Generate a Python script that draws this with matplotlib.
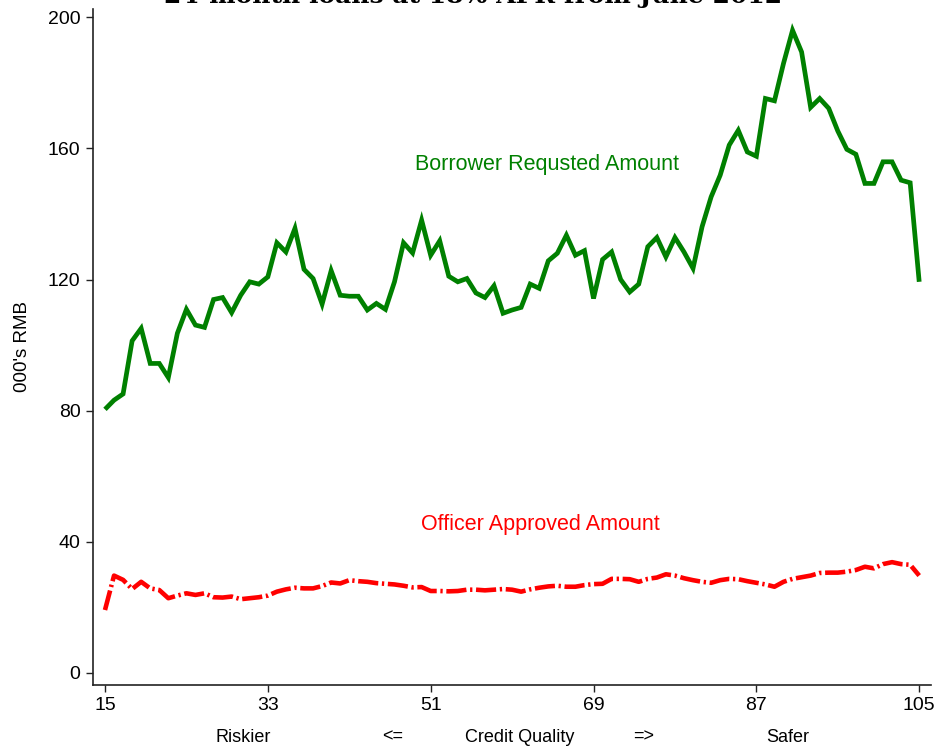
import numpy as np
import matplotlib
matplotlib.use("Agg")
import matplotlib.pyplot as plt
from matplotlib.transforms import blended_transform_factory

plt.rcParams["font.family"] = ["Liberation Sans", "DejaVu Sans"]

# Credit-quality score (x) and average loan amounts in thousands of RMB
credit_score = list(range(15, 106))

requested = [
    80.4, 83.2, 85.1, 101.3, 105.1, 94.4, 94.4, 90.1, 103.6, 110.9,
    106.1, 105.4, 113.9, 114.5, 109.9, 115.2, 119.3, 118.6, 120.8, 131.2,
    128.4, 135.6, 123.1, 120.3, 112.5, 122.7, 115.2, 114.9, 114.9, 110.7,
    112.7, 110.9, 119.3, 131.2, 128.1, 138.1, 127.4, 131.8, 121.0, 119.3,
    120.3, 115.9, 114.5, 118.1, 109.7, 110.7, 111.5, 118.6, 117.3, 125.7,
    128.0, 133.5, 127.4, 128.8, 114.2, 126.1, 128.4, 120.0, 116.2, 118.6,
    130.0, 132.8, 126.9, 132.8, 128.4, 123.4, 136.1, 145.2, 151.8, 161.0,
    165.5, 158.9, 157.6, 175.2, 174.5, 185.9, 196.0, 189.4, 172.5, 175.2,
    172.2, 165.3, 159.7, 158.2, 149.3, 149.3, 155.9, 155.9, 150.3, 149.5,
    119.3,
]

approved = [
    19.2, 29.7, 28.4, 25.6, 27.8, 25.8, 25.3, 22.8, 23.6, 24.3,
    23.8, 24.3, 23.1, 23.0, 23.3, 22.5, 22.8, 23.1, 23.6, 24.8,
    25.5, 26.0, 25.8, 25.8, 26.5, 27.6, 27.3, 28.3, 28.0, 27.8,
    27.4, 27.2, 27.0, 26.6, 26.1, 26.2, 25.0, 25.0, 24.9, 25.0,
    25.4, 25.4, 25.2, 25.4, 25.6, 25.4, 24.8, 25.5, 26.0, 26.4,
    26.6, 26.3, 26.3, 26.8, 27.1, 27.2, 28.7, 28.7, 28.6, 27.8,
    28.7, 29.1, 30.1, 29.7, 28.9, 28.3, 27.8, 27.5, 28.3, 28.7,
    28.6, 28.0, 27.5, 27.0, 26.3, 27.8, 28.7, 29.2, 29.7, 30.5,
    30.6, 30.6, 30.9, 31.4, 32.4, 31.9, 33.2, 33.8, 33.2, 33.0,
    29.7,
]

x_ticks = [15, 33, 51, 69, 87, 105]
y_ticks = [0, 40, 80, 120, 160, 200]

title_text = "24-month loans at 18% APR from June 2012"
requested_label = "Borrower Requsted Amount"
approved_label = "Officer Approved Amount"
y_label = "000's RMB"
x_label_parts = [("Riskier", 30.3), ("<=", 46.8), ("Credit Quality", 60.8),
                 ("=>", 74.5), ("Safer", 90.5)]

fig = plt.figure(figsize=(9.38, 7.5), dpi=100)
ax = fig.add_axes([0.0991, 0.0867, 0.8934, 0.9013])

ax.plot(credit_score, requested, color="#008000", lw=3.4,
        solid_joinstyle="miter", solid_capstyle="butt")
ax.plot(credit_score, approved, color="#ff0000", lw=3.3,
        linestyle=(0, (4.4, 0.8, 0.5, 0.8)), dash_capstyle="butt")

ax.set_xlim(13.67, 106.3)
ax.set_ylim(-3.66, 202.5)
ax.set_xticks(x_ticks)
ax.set_yticks(y_ticks)
ax.tick_params(direction="out", length=5, width=1.0, labelsize=14, pad=4,
               color="#222222")

for side in ("top", "right"):
    ax.spines[side].set_visible(False)
for side in ("left", "bottom"):
    ax.spines[side].set_linewidth(1.2)
    ax.spines[side].set_color("#222222")

ax.set_ylabel(y_label, fontsize=13.5, labelpad=12)

ax.text(63.9, 155.2, requested_label, color="#008000", fontsize=15.5,
        ha="center", va="center")
ax.text(63.1, 45.4, approved_label, color="#ff0000", fontsize=15.5,
        ha="center", va="center")

trans = blended_transform_factory(ax.transData, fig.transFigure)
for text, xpos in x_label_parts:
    ax.text(xpos, 1 - 737 / 750, text, transform=trans, fontsize=13,
            ha="center", va="center")

fig.text(0.504, 1 - 2.5 / 750, title_text, family="DejaVu Serif",
         fontsize=18, fontweight="bold", ha="center", va="baseline")

fig.savefig("out.png", dpi=100)
